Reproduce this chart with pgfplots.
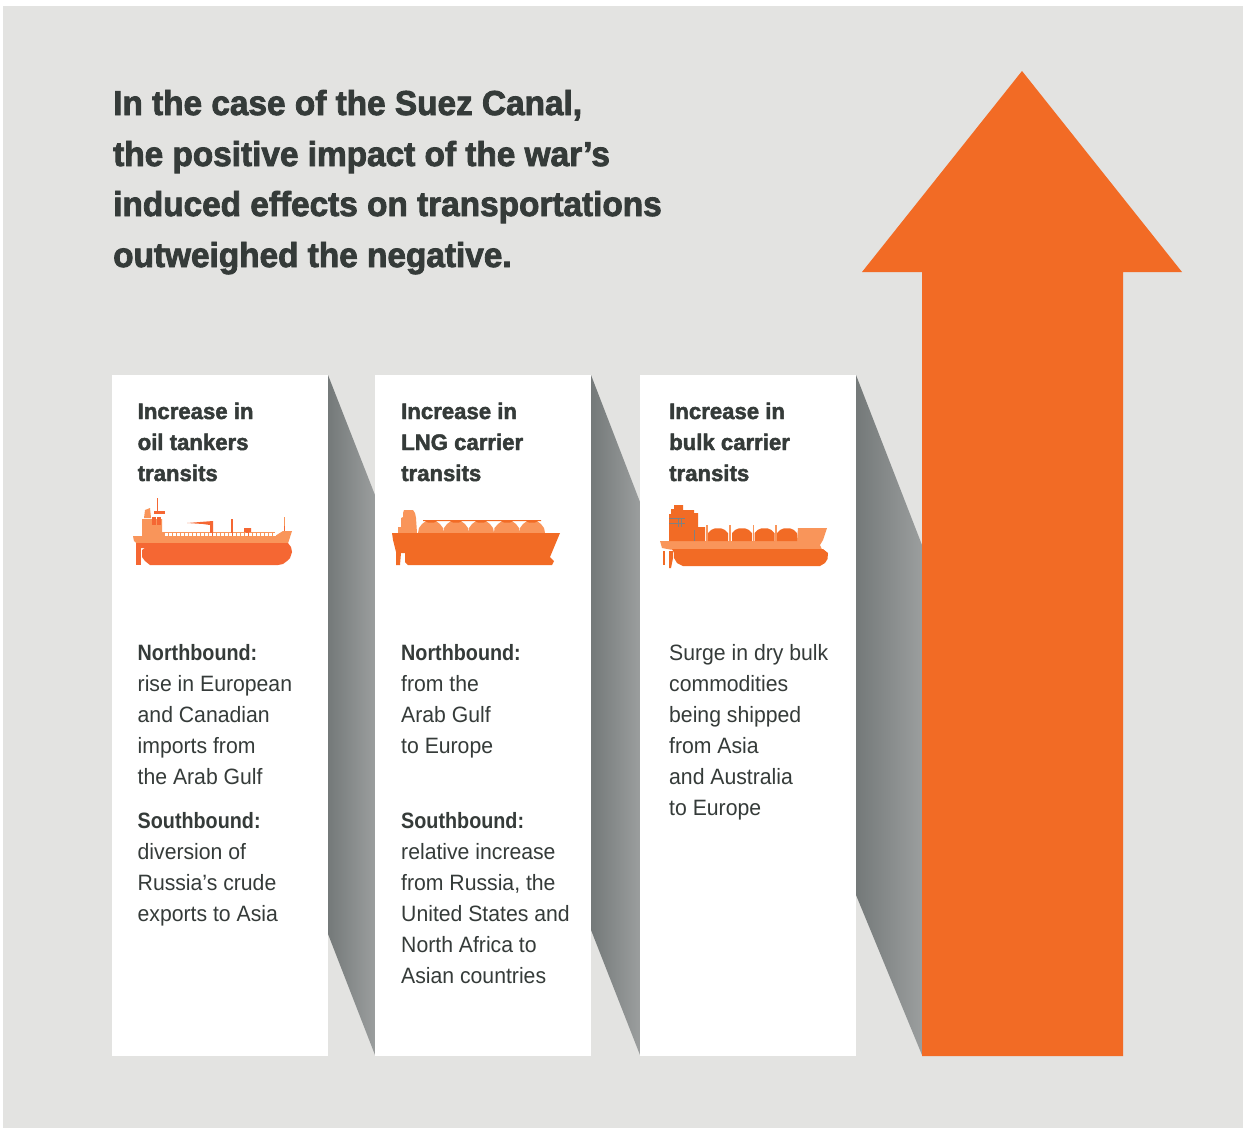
\documentclass[border=0pt]{standalone}
\usepackage{pgfplots}
\pgfplotsset{compat=1.18}
\usepackage{fontspec}
\setmainfont[FakeStretch=0.955,BoldFeatures={FakeStretch=0.89}]{Liberation Sans}
\newfontfamily\titlefont[BoldFeatures={FakeBold=2.4,FakeStretch=0.964}]{Liberation Sans}
\newfontfamily\headfont[BoldFeatures={FakeBold=2,FakeStretch=0.985}]{Liberation Sans}
\definecolor{bgc}{HTML}{E3E3E1}
\definecolor{org}{HTML}{F26B25}
\definecolor{red1}{HTML}{F56733}
\definecolor{lgt}{HTML}{F9955A}
\definecolor{ink}{HTML}{353B39}
\definecolor{shL}{HTML}{747979}
\definecolor{shR}{HTML}{9B9E9E}
\pgfplotsset{
  shp/.style={draw=none,fill=#1,no markers},
  shd/.style={draw=none,left color=shL,right color=shR,no markers},
}
\newcommand{\ttl}[2]{\node[anchor=base west,inner sep=0,text=ink,font=\titlefont\fontsize{34.6}{40}\selectfont\bfseries] at (axis cs:113,#1) {#2};}
\newcommand{\hd}[3]{\node[anchor=base west,inner sep=0,text=ink,font=\headfont\fontsize{22.5}{26}\selectfont\bfseries] at (axis cs:#1,#2) {#3};}
\newcommand{\bd}[3]{\node[anchor=base west,inner sep=0,text=ink,font=\fontsize{22.2}{26}\selectfont] at (axis cs:#1,#2) {#3};}
\newcommand{\bb}[3]{\node[anchor=base west,inner sep=0,text=ink,font=\fontsize{22.2}{26}\selectfont\bfseries] at (axis cs:#1,#2) {#3};}
\begin{document}
\begin{tikzpicture}
\begin{axis}[scale only axis,width=1244pt,height=1128pt,hide axis,
  xmin=0,xmax=1244,ymin=0,ymax=1128,y dir=reverse,clip=false]
% background
\addplot[shp=white] coordinates {(0,0) (1244,0) (1244,1128) (0,1128)} --cycle;
\addplot[shp=bgc] coordinates {(3,6) (1243,6) (1243,1128) (3,1128)} --cycle;
% shadows
\addplot[shd] coordinates {(328,375) (375,495) (375,1055) (328,934)} --cycle;
\addplot[shd] coordinates {(591,375) (640,502) (640,1055) (591,930)} --cycle;
\addplot[shd] coordinates {(856,375) (922,545) (922,1055) (856,895)} --cycle;
% cards
\addplot[shp=white] coordinates {(112,375) (328,375) (328,1056) (112,1056)} --cycle;
\addplot[shp=white] coordinates {(375,375) (591,375) (591,1056) (375,1056)} --cycle;
\addplot[shp=white] coordinates {(640,375) (856,375) (856,1056) (640,1056)} --cycle;
% arrow
\addplot[shp=org] coordinates {(1022,71) (1182,272) (1123,272) (1123,1056) (922,1056) (922,272) (862,272)} --cycle;
% oil tanker
\addplot[shp=lgt] coordinates {(133,536) (142,536) (142,519) (162,519) (162,532) (165,532) (165,536) (275,536) (283,531) (292,531) (288,543.5) (137,543.5) (134,541)} --cycle;
\addplot[shp=lgt] coordinates {(144,518) (145,510) (150,508) (151,518)} --cycle;
\addplot[shp=lgt] coordinates {(283.5,517) (285,517) (285,531) (283.5,531)} --cycle;
\addplot[shp=lgt] coordinates {(164,532) (275,532) (275,536) (164,536)} --cycle;
\addplot[white,only marks,mark=square*,mark size=1pt] coordinates {(166,534.4) (170,534.4) (174,534.4) (178,534.4) (182,534.4) (186,534.4) (190,534.4) (194,534.4) (198,534.4) (202,534.4) (206,534.4) (210,534.4) (214,534.4) (218,534.4) (222,534.4) (226,534.4) (230,534.4) (234,534.4) (238,534.4) (242,534.4) (246,534.4) (250,534.4) (254,534.4) (258,534.4) (262,534.4) (266,534.4) (270,534.4) (274,534.4)};
\addplot[shp=red1] coordinates {(157,498) (158,498) (158,512) (157,512)} --cycle;
\addplot[shp=red1] coordinates {(154,511) (165,511) (165,514) (154,514)} --cycle;
\addplot[shp=red1] coordinates {(152,517) (156,517) (156,525) (152,525)} --cycle;
\addplot[shp=red1] coordinates {(157,517) (161,517) (161,525) (157,525)} --cycle;
\addplot[shp=red1] coordinates {(187,523) (213,521) (213,536) (210,536) (210,525) (203,524)} --cycle;
\addplot[shp=red1] coordinates {(231,519) (233,519) (233,536) (231,536)} --cycle;
\addplot[shp=red1] coordinates {(244,528) (251,528) (251,532) (249,532) (249,536) (246,536) (246,532) (244,532)} --cycle;
\addplot[shp=red1] coordinates {(283.5,526) (285,526) (285,531) (283.5,531)} --cycle;
\addplot[shp=red1] coordinates {(136,543) (141,543) (141,565) (136,565)} --cycle;
\addplot[shp=red1] coordinates {(141,543) (288,543) (291,547) (292,552) (290,558) (287,561) (283,564) (278,565) (150,565) (145,561) (142,557) (142,550) (145,548) (141,548)} --cycle;
% lng carrier
\addplot[shp=lgt] coordinates {(404,510) (413,510) (415,513) (416,518) (417,533) (398,533) (398,527) (401,527) (401,518) (403,517) (403,513)} --cycle;
\addplot[shp=lgt] coordinates {(418,533) (419,528) (422,524) (426,521) (431,520.5) (436,521) (440,524) (443,528) (443.5,533)
 (444,528) (447,524) (451,521) (456,520.5) (461,521) (465,524) (468,528) (468.5,533)
 (469,528) (472,524) (476,521) (481,520.5) (486,521) (490,524) (493,528) (494,533)
 (494.5,528) (498,524) (502,521) (507,520.5) (512,521) (516,524) (519,528) (519.5,533)
 (520,528) (523,524) (527,521) (532,520.5) (537,521) (541,524) (544,528) (545,533)} --cycle;
\addplot[shp=org] coordinates {(423,520) (541,520) (541,521) (538,521) (535,522.5) (529,522.5) (526,521) (513,521) (510,522.5) (504,522.5) (501,521) (487,521) (484,522.5) (478,522.5) (475,521) (462,521) (459,522.5) (453,522.5) (450,521) (437,521) (434,522.5) (428,522.5) (425,521) (423,521)} --cycle;
\addplot[shp=org] coordinates {(392,533) (560,533) (550,557) (554,561) (552,565) (408,565) (405,562) (405,553) (401,553) (400,565) (396,565) (396,552) (393,540)} --cycle;
% bulk carrier
\addplot[shp=lgt] coordinates {(660,541) (797,541) (798,528) (827,528) (823,540) (820,545) (822,549.5) (670,549.5) (662,548)} --cycle;
\addplot[shp=org] coordinates {(674,505) (683,505) (683,510) (694,510) (694,513) (698,513) (698,527) (705,527) (705,541) (669,541) (669,514) (671,514) (671,509) (674,509)} --cycle;
\addplot[shp=org] coordinates {(708,541) (708,533) (711,530) (715,528.3) (721,528.3) (725,530) (728,533) (728,541)} --cycle;
\addplot[shp=org] coordinates {(732,541) (732,533) (735,530) (739,528.3) (745,528.3) (749,530) (752,533) (752,541)} --cycle;
\addplot[shp=org] coordinates {(754.5,541) (754.5,533) (757.5,530) (761.5,528.3) (767.5,528.3) (771.5,530) (774.5,533) (774.5,541)} --cycle;
\addplot[shp=org] coordinates {(777,541) (777,533) (780,530) (784,528.3) (790,528.3) (794,530) (797,533) (797,541)} --cycle;
\addplot[shp=lgt] coordinates {(706,525) (707.5,525) (707.5,541) (706,541)} --cycle;
\addplot[shp=lgt] coordinates {(729,525) (730.5,525) (730.5,541) (729,541)} --cycle;
\addplot[shp=lgt] coordinates {(752.5,525) (754,525) (754,541) (752.5,541)} --cycle;
\addplot[shp=lgt] coordinates {(775,525) (776.5,525) (776.5,541) (775,541)} --cycle;
\addplot[gray,line width=0.8pt,no markers] coordinates {(669,518) (685,518)};
\addplot[gray,line width=0.8pt,no markers] coordinates {(669,523) (685,523)};
\addplot[gray,line width=0.7pt,no markers] coordinates {(678,518) (678,527)};
\addplot[gray,line width=0.7pt,no markers] coordinates {(681,518) (681,527)};
\addplot[gray,line width=0.6pt,no markers] coordinates {(694.5,530) (694.5,541)};
\addplot[shp=org] coordinates {(672,549) (823,549) (828,553) (827.5,559) (825,563) (820,566) (683,566) (677,563) (674,558) (674,553)} --cycle;
\addplot[shp=org] coordinates {(663,551) (665,551) (665,565) (663,565)} --cycle;
\addplot[shp=org] coordinates {(669,551) (673,551) (673,558) (671,568) (669,568)} --cycle;
% title
\ttl{115}{In the case of the Suez Canal,}
\ttl{166}{the positive impact of the war’s}
\ttl{216}{induced effects on transportations}
\ttl{267}{outweighed the negative.}
% column 1
\hd{137.5}{419}{Increase in}
\hd{137.5}{450}{oil tankers}
\hd{137.5}{481}{transits}
\bb{137.5}{660}{Northbound:}
\bd{137.5}{691}{rise in European}
\bd{137.5}{722}{and Canadian}
\bd{137.5}{753}{imports from}
\bd{137.5}{784}{the Arab Gulf}
\bb{137.5}{828}{Southbound:}
\bd{137.5}{859}{diversion of}
\bd{137.5}{890}{Russia’s crude}
\bd{137.5}{921}{exports to Asia}
% column 2
\hd{401}{419}{Increase in}
\hd{401}{450}{LNG carrier}
\hd{401}{481}{transits}
\bb{401}{660}{Northbound:}
\bd{401}{691}{from the}
\bd{401}{722}{Arab Gulf}
\bd{401}{753}{to Europe}
\bb{401}{828}{Southbound:}
\bd{401}{859}{relative increase}
\bd{401}{890}{from Russia, the}
\bd{401}{921}{United States and}
\bd{401}{952}{North Africa to}
\bd{401}{983}{Asian countries}
% column 3
\hd{669}{419}{Increase in}
\hd{669}{450}{bulk carrier}
\hd{669}{481}{transits}
\bd{669}{660}{Surge in dry bulk}
\bd{669}{691}{commodities}
\bd{669}{722}{being shipped}
\bd{669}{753}{from Asia}
\bd{669}{784}{and Australia}
\bd{669}{815}{to Europe}
\end{axis}
\end{tikzpicture}
\end{document}
